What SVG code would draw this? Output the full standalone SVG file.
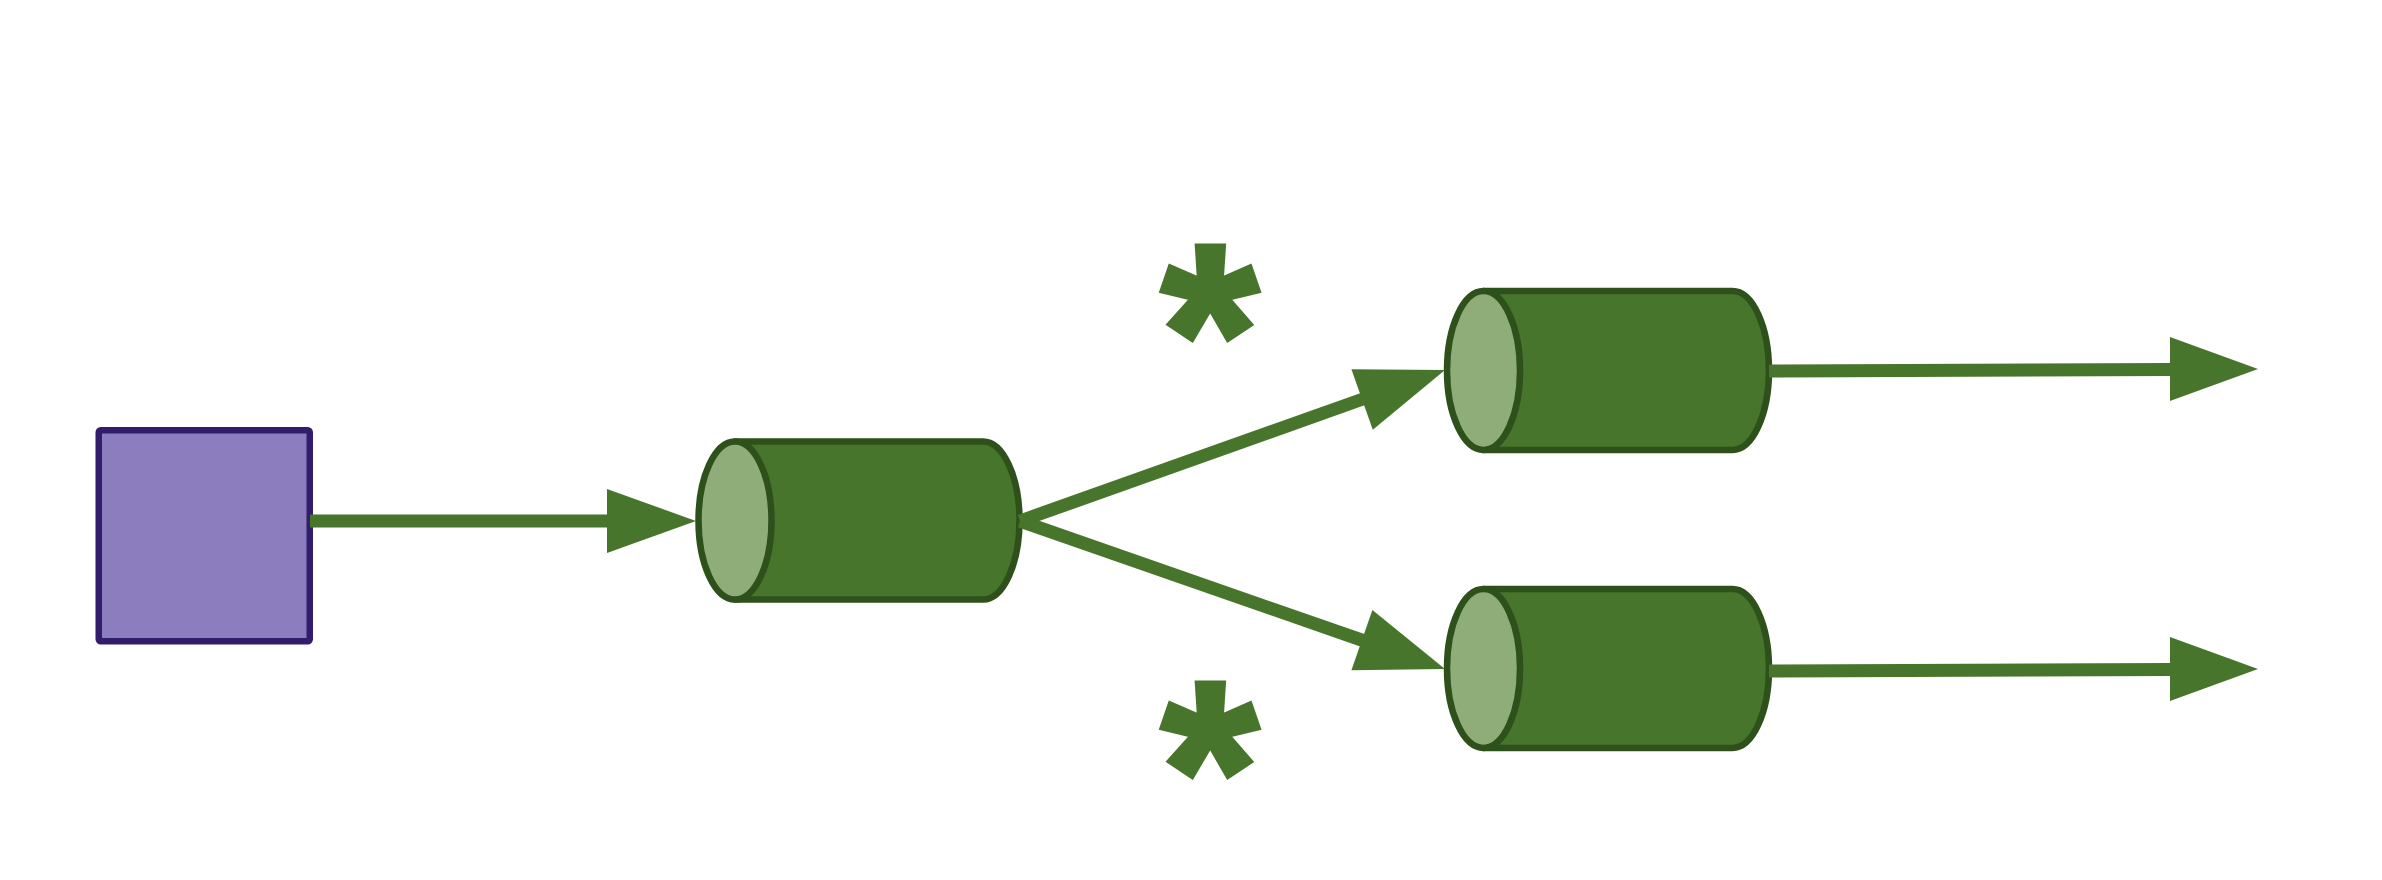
<svg xmlns="http://www.w3.org/2000/svg" width="2382" height="880" viewBox="0 0 2382 880">
<style>
.conn{stroke:#48752c;stroke-width:13;fill:none}
.head{fill:#48752c;stroke:none}
.body{fill:#48752c;stroke:#2e501b;stroke-width:6.5;stroke-linejoin:round}
.cap{fill:#8fad79;stroke:#2e501b;stroke-width:6.5}
.star{font-family:"Liberation Sans",Arial,sans-serif;font-weight:bold;font-size:250px;fill:#48752c;stroke:#48752c;stroke-width:5;stroke-linejoin:miter;text-anchor:middle}
</style>
<rect width="2382" height="880" fill="#ffffff"/>
<g id="source">
<rect x="98.75" y="430.25" width="211" height="211" rx="2" fill="#8c7ebe" stroke="#311d6b" stroke-width="6.5" stroke-linejoin="round"/>
</g>
<g id="queue1">
<path class="body" d="M735,441.5 L983,441.5 A36.5,79 0 0 1 983,599.5 L735,599.5 Z"/>
<ellipse class="cap" cx="735" cy="520.5" rx="36.5" ry="79"/>
</g>
<g id="queue2">
<path class="body" d="M1483.5,291 L1732.5,291 A36.5,79.5 0 0 1 1732.5,450 L1483.5,450 Z"/>
<ellipse class="cap" cx="1483.5" cy="370.5" rx="36.5" ry="79.5"/>
</g>
<g id="queue3">
<path class="body" d="M1483.5,589 L1732.5,589 A36.5,79.5 0 0 1 1732.5,748 L1483.5,748 Z"/>
<ellipse class="cap" cx="1483.5" cy="668.5" rx="36.5" ry="79.5"/>
</g>
<g id="connectors">
<line class="conn" x1="310" y1="521" x2="608" y2="521"/>
<polygon class="head" points="607,489 696,521 607,553"/>
<line class="conn" x1="1020" y1="521" x2="1363" y2="399"/>
<polygon class="head" points="1372.8,429.7 1445,370 1351.4,369.3"/>
<line class="conn" x1="1020" y1="521" x2="1363" y2="640.5"/>
<polygon class="head" points="1351.4,670.3 1445,669 1372.4,609.9"/>
<line class="conn" x1="1769" y1="371" x2="2171" y2="369.5"/>
<polygon class="head" points="2170,337 2258,369 2170,401"/>
<line class="conn" x1="1769" y1="671" x2="2171" y2="669.5"/>
<polygon class="head" points="2170,637 2258,669 2170,701"/>
</g>
<g id="labels">
<text class="star" x="1210" y="419">*</text>
<text class="star" x="1210" y="856">*</text>
</g>
</svg>
